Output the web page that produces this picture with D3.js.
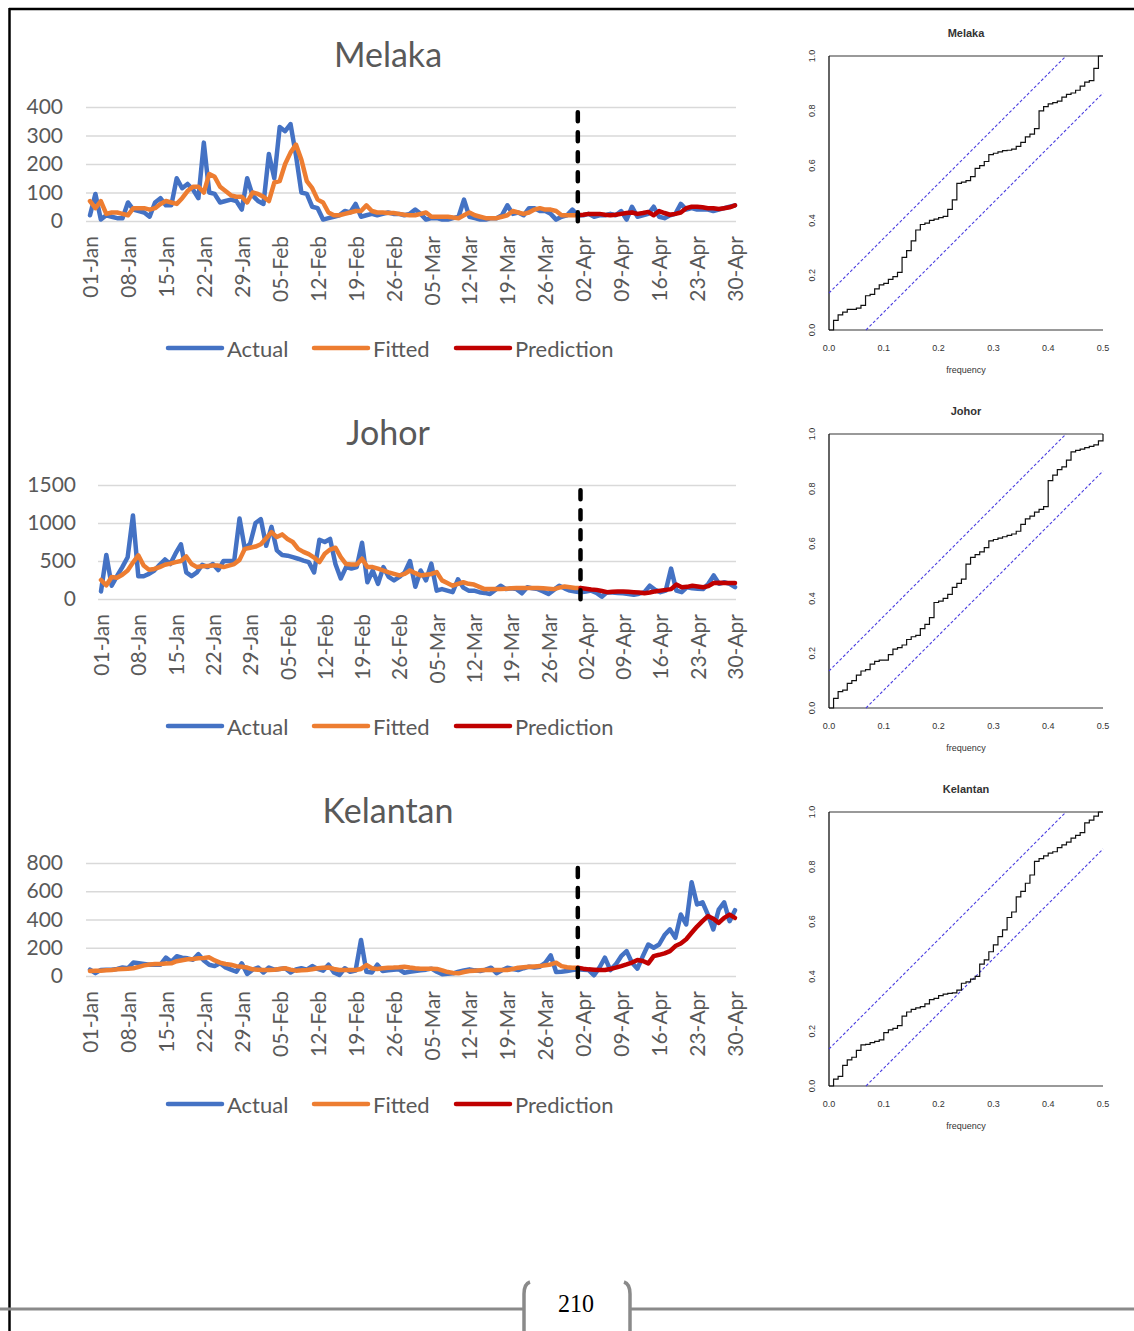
<!DOCTYPE html>
<html>
<head>
<meta charset="utf-8">
<script src="https://cdn.jsdelivr.net/npm/d3@7"></script>
<style>
  body { margin: 0; background: #fff; }
  svg { display: block; }
  .xl text { font-family: Lato, "Open Sans", sans-serif; fill: #595959; }
  .rp text { font-family: "Liberation Sans", Arial, sans-serif; fill: #333; }
</style>
</head>
<body>
<script>
// ---- data ----
const dateLabels = ["01-Jan","08-Jan","15-Jan","22-Jan","29-Jan","05-Feb","12-Feb","19-Feb","26-Feb",
  "05-Mar","12-Mar","19-Mar","26-Mar","02-Apr","09-Apr","16-Apr","23-Apr","30-Apr"];
const seriesNames = ["Actual", "Fitted", "Prediction"];
const splitDay = 90; // 01-Apr, fitted ends / prediction starts

const melakaActual = [20,95,5,20,15,10,10,65,40,35, 30,15,65,80,55,55,150,115,130,110,
  80,275,100,95,65,70,75,70,40,150, 90,70,60,235,150,330,315,340,230,100,
  95,50,45,5,10,15,20,35,30,60, 15,20,25,20,25,30,25,25,20,25,
  40,25,5,10,10,5,5,10,15,75, 15,10,5,5,10,10,20,55,25,30,
  20,45,45,35,35,25,5,15,20,40, 20,20,25,15,20,20,25,20,35,5,
  50,15,20,25,50,15,10,20,25,60, 40,45,40,40,40,35,40,45,50,55];
const melakaFitted = [70,45,70,25,30,30,25,20,45,45, 45,40,45,60,70,65,60,80,105,120,
  120,100,165,155,120,105,90,85,85,65, 100,95,85,70,135,140,200,240,268,215,
  140,115,75,65,30,20,20,25,30,35, 35,55,35,30,30,28,28,25,22,20,
  20,25,30,15,15,15,15,12,10,20, 30,20,15,10,10,10,15,20,35,30,
  25,30,40,45,40,40,35,20,20,20, 20];
const melakaPrediction = [20,22,25,25,25,22,20,22,25,28, 30,25,28,32,20,35,28,22,25,30,
  45,50,50,48,45,45,42,45,48,55];

const johorActual = [100,580,175,300,420,550,1100,300,300,330, 375,450,520,460,600,720,350,300,350,450,
  420,460,380,500,500,500,1060,660,730,1000, 1050,700,950,640,580,570,550,530,505,485,
  350,780,750,790,460,270,420,400,420,740, 220,375,200,420,290,245,290,350,500,160,
  375,245,465,110,130,110,90,260,150,110, 110,90,80,65,120,175,130,140,130,75,
  155,140,130,100,65,120,175,140,110,100, 90,100,110,80,30,90,85,80,75,65,
  55,70,90,175,120,90,110,400,110,90, 155,140,135,130,200,310,200,220,200,155];
const johorFitted = [250,180,290,280,320,375,480,575,440,385, 395,420,450,465,485,500,560,460,420,430,
  435,440,440,420,440,460,515,660,675,690, 720,800,880,815,850,790,750,660,620,590,
  545,485,595,650,675,550,460,455,455,530, 420,420,400,375,350,330,310,330,375,340,
  310,320,330,355,245,210,175,200,220,200, 190,160,130,130,130,130,135,140,145,145,
  145,145,145,140,135,130,150,165,155,145, 145];
const johorPrediction = [145,135,125,120,105,90,95,100,100,95, 90,85,75,85,100,110,120,130,190,155,
  160,175,165,155,170,210,215,210,210,210];

const kelantanActual = [45,20,43,45,45,50,60,55,95,90, 85,80,80,80,130,100,140,130,125,115,
  155,110,80,70,90,60,45,30,90,15, 45,60,25,60,45,50,55,25,47,55,
  45,70,50,38,80,25,7,55,30,38, 255,30,25,80,35,40,45,47,23,30,
  35,40,45,52,30,12,15,19,30,40, 47,40,35,45,59,19,40,59,50,42,
  55,66,60,66,94,146,28,30,35,42, 47,45,42,5,60,130,42,82,140,176,
  94,52,140,223,200,223,290,330,270,435, 365,664,506,522,435,330,470,522,388,466];
const kelantanFitted = [35,38,38,40,42,47,50,52,55,65, 75,82,85,85,88,90,105,112,118,120,
  125,128,132,110,95,85,80,70,65,60, 47,45,43,43,45,50,55,45,38,40,
  43,48,55,58,60,50,43,43,43,43, 50,78,55,50,55,59,60,62,66,60,
  55,52,52,52,50,40,28,22,19,28, 35,38,40,42,42,42,42,42,50,59,
  62,65,68,70,76,82,94,70,62,59, 59];
const kelantanPrediction = [59,52,47,45,43,42,50,59,70,82, 95,113,106,89,141,150,160,176,212,230,
  260,306,350,388,424,405,376,412,435,412];

const melakaTicks = [0,100,200,300,400];
const johorTicks = [0,500,1000,1500];
const kelantanTicks = [0,200,400,600,800];

// cumulative periodogram, value at frequency k/120 (k = 1..60)
const cpMelaka = [0.035,0.055,0.065,0.075,0.075,0.08,0.09,0.125,0.13,0.15,
  0.165,0.17,0.185,0.195,0.21,0.265,0.29,0.325,0.365,0.385,
  0.39,0.4,0.405,0.41,0.415,0.44,0.475,0.535,0.54,0.545,
  0.56,0.59,0.6,0.615,0.64,0.645,0.65,0.655,0.656,0.66,
  0.67,0.685,0.705,0.715,0.735,0.8,0.815,0.825,0.83,0.835,
  0.85,0.86,0.865,0.875,0.89,0.905,0.91,0.955,1.0,1.0];
const cpJohor = [0.035,0.06,0.065,0.09,0.1,0.12,0.135,0.14,0.16,0.17,
  0.175,0.175,0.195,0.215,0.22,0.23,0.25,0.26,0.265,0.29,
  0.305,0.33,0.385,0.39,0.4,0.415,0.44,0.455,0.47,0.525,
  0.55,0.56,0.57,0.585,0.61,0.615,0.62,0.625,0.63,0.635,
  0.645,0.67,0.69,0.7,0.715,0.725,0.735,0.83,0.85,0.87,
  0.88,0.905,0.935,0.94,0.945,0.95,0.955,0.96,0.975,1.0];
const cpKelantan = [0.025,0.035,0.075,0.095,0.105,0.13,0.15,0.152,0.158,0.163,
  0.168,0.195,0.205,0.21,0.22,0.255,0.27,0.28,0.285,0.29,
  0.3,0.315,0.32,0.33,0.335,0.338,0.34,0.35,0.375,0.38,
  0.39,0.4,0.445,0.46,0.49,0.515,0.545,0.57,0.615,0.635,
  0.69,0.71,0.74,0.77,0.82,0.83,0.84,0.85,0.855,0.87,
  0.88,0.89,0.905,0.915,0.925,0.96,0.97,0.985,1.0,1.0];
const cpCrit = 0.135;
const cpTicksX = [0,0.1,0.2,0.3,0.4,0.5];
const cpTicksY = [0,0.2,0.4,0.6,0.8,1.0];

const colors = ["#4472C4", "#ED7D31", "#C00000"];

const W = 1134, H = 1331;
const svg = d3.select("body").append("svg").attr("width", W).attr("height", H);

// page frame
svg.append("line").attr("x1", 9.5).attr("x2", 9.5).attr("y1", 8).attr("y2", H)
  .attr("stroke", "#000").attr("stroke-width", 2.5);
svg.append("line").attr("x1", 9).attr("x2", W).attr("y1", 9).attr("y2", 9)
  .attr("stroke", "#000").attr("stroke-width", 2.5);

function drawExcel(c) {
  const g = svg.append("g").attr("class", "xl");
  const x = d3.scaleLinear().domain([0, melakaActual.length - 1]).range([c.x0, c.x1]);
  const y = d3.scaleLinear().domain([0, d3.max(c.ticks)]).range([c.yb, c.yt]);

  g.append("text").attr("x", 388).attr("y", c.titleY).attr("text-anchor", "middle")
    .attr("dominant-baseline", "central").style("font-size", "34px").text(c.name);

  // gridlines
  const grid = g.append("g").attr("transform", `translate(${c.gl},0)`)
    .call(d3.axisLeft(y).tickValues(c.ticks).tickSize(-(736 - c.gl)).tickFormat(""));
  grid.select(".domain").remove();
  grid.selectAll("line").attr("stroke", "#d9d9d9").attr("stroke-width", 1.6);

  const ya = g.append("g").attr("transform", `translate(${c.gl},0)`)
    .call(d3.axisLeft(y).tickValues(c.ticks).tickSize(0).tickPadding(c.gl - c.lr)
      .tickFormat(d3.format("d")));
  ya.select(".domain").remove();
  ya.selectAll("text").style("font-size", "21px").attr("fill", "#595959")
    .style("font-family", "Lato, sans-serif");

  const xa = g.append("g").attr("transform", `translate(0,${c.yb})`)
    .call(d3.axisBottom(x).tickValues(d3.range(0, 120, 7)).tickSize(0)
      .tickFormat((d, i) => dateLabels[i]));
  xa.select(".domain").remove();
  xa.selectAll("text").attr("y", 0).attr("x", -15).attr("dy", "0.36em")
    .attr("transform", "rotate(-90)").style("text-anchor", "end")
    .style("font-size", "21px").attr("fill", "#595959").style("font-family", "Lato, sans-serif");

  const line = off => d3.line().x((d, i) => x(i + off)).y(d => y(d));
  [[c.actual, 0], [c.fitted, 0], [c.pred, splitDay]].forEach(([vals, off], k) => {
    g.append("path").datum(vals).attr("d", line(off)).attr("fill", "none")
      .attr("stroke", colors[k]).attr("stroke-width", 4.5)
      .attr("stroke-linejoin", "round").attr("stroke-linecap", "round");
  });

  // split marker
  g.append("line").attr("x1", x(splitDay)).attr("x2", x(splitDay))
    .attr("y1", y(d3.max(c.ticks) * 0.955)).attr("y2", y(0) + 1)
    .attr("stroke", "#000").attr("stroke-width", 4.5)
    .attr("stroke-dasharray", "9,11").attr("stroke-linecap", "round");

  // legend
  const lx = [168, 314, 456];
  seriesNames.forEach((n, k) => {
    g.append("line").attr("x1", lx[k]).attr("x2", lx[k] + 54)
      .attr("y1", c.legY).attr("y2", c.legY)
      .attr("stroke", colors[k]).attr("stroke-width", 4.5).attr("stroke-linecap", "round");
    g.append("text").attr("x", lx[k] + 59).attr("y", c.legY).attr("dominant-baseline", "central")
      .style("font-size", "22px").text(n);
  });
}

drawExcel({name: "Melaka", actual: melakaActual, fitted: melakaFitted, pred: melakaPrediction,
  ticks: melakaTicks, x0: 90, x1: 735, yb: 221, yt: 107, gl: 86, lr: 63, titleY: 53, legY: 348});
drawExcel({name: "Johor", actual: johorActual, fitted: johorFitted, pred: johorPrediction,
  ticks: johorTicks, x0: 101, x1: 735, yb: 599, yt: 485, gl: 98, lr: 76, titleY: 431, legY: 726});
drawExcel({name: "Kelantan", actual: kelantanActual, fitted: kelantanFitted, pred: kelantanPrediction,
  ticks: kelantanTicks, x0: 90, x1: 735, yb: 976, yt: 863, gl: 86, lr: 63, titleY: 809, legY: 1104});

function drawCp(name, vals, top) {
  const g = svg.append("g").attr("class", "rp");
  const x = d3.scaleLinear().domain([0, 0.5]).range([829, 1103]);
  const y = d3.scaleLinear().domain([0, 1]).range([top + 274, top]);
  const pts = [[0, 0]].concat(vals.map((v, i) => [(i + 1) / (2 * vals.length), v]));

  g.append("text").attr("x", 966).attr("y", top - 19).attr("text-anchor", "middle")
    .style("font-size", "11px").style("font-weight", "bold").attr("fill", "#111").text(name);

  g.append("line").attr("x1", x(0)).attr("x2", x(0.5)).attr("y1", y(1)).attr("y2", y(1))
    .attr("stroke", "#777").attr("stroke-width", 1.6);
  g.append("line").attr("x1", x(0)).attr("x2", x(0.5)).attr("y1", y(0)).attr("y2", y(0))
    .attr("stroke", "#777").attr("stroke-width", 1.6);
  g.append("line").attr("x1", x(0)).attr("x2", x(0)).attr("y1", y(0)).attr("y2", y(1))
    .attr("stroke", "#111").attr("stroke-width", 1.3);

  g.selectAll(".xt").data(cpTicksX).join("text").attr("x", d => x(d)).attr("y", top + 295)
    .attr("text-anchor", "middle").style("font-size", "9px").text(d => d.toFixed(1));
  g.selectAll(".yt").data(cpTicksY).join("text")
    .attr("transform", d => `translate(${812},${y(d)}) rotate(-90)`)
    .attr("text-anchor", "middle").attr("dy", "0.35em").style("font-size", "9px")
    .text(d => d.toFixed(1));
  g.append("text").attr("x", 966).attr("y", top + 317).attr("text-anchor", "middle")
    .style("font-size", "9px").text("frequency");

  const ci = [[[0, cpCrit], [0.5 * (1 - cpCrit), 1]], [[0.5 * cpCrit, 0], [0.5, 1 - cpCrit]]];
  ci.forEach(seg => {
    g.append("path").datum(seg).attr("d", d3.line().x(d => x(d[0])).y(d => y(d[1])))
      .attr("stroke", "#4b3fe0").attr("stroke-width", 1.1).attr("stroke-dasharray", "3,2")
      .attr("fill", "none");
  });

  g.append("path").datum(pts)
    .attr("d", d3.line().x(d => x(d[0])).y(d => y(d[1])).curve(d3.curveStepAfter))
    .attr("fill", "none").attr("stroke", "#111").attr("stroke-width", 1.2);
}

drawCp("Melaka", cpMelaka, 56);
drawCp("Johor", cpJohor, 434);
drawCp("Kelantan", cpKelantan, 812);

// page footer
const foot = svg.append("g");
foot.append("line").attr("x1", 0).attr("x2", 523).attr("y1", 1309).attr("y2", 1309)
  .attr("stroke", "#8a8a8a").attr("stroke-width", 3);
foot.append("line").attr("x1", 631).attr("x2", W).attr("y1", 1309).attr("y2", 1309)
  .attr("stroke", "#8a8a8a").attr("stroke-width", 3);
foot.append("path").attr("d", "M530,1282 Q524,1284 524,1294 L524,1331")
  .attr("fill", "none").attr("stroke", "#8a8a8a").attr("stroke-width", 3.5);
foot.append("path").attr("d", "M624,1282 Q630,1284 630,1294 L630,1331")
  .attr("fill", "none").attr("stroke", "#8a8a8a").attr("stroke-width", 3.5);
foot.append("text").attr("x", 576).attr("y", 1312).attr("text-anchor", "middle")
  .style("font-family", "'Liberation Serif', 'DejaVu Serif', serif").style("font-size", "26px")
  .attr("textLength", 36).attr("lengthAdjust", "spacingAndGlyphs").text("210");
</script>
</body>
</html>
